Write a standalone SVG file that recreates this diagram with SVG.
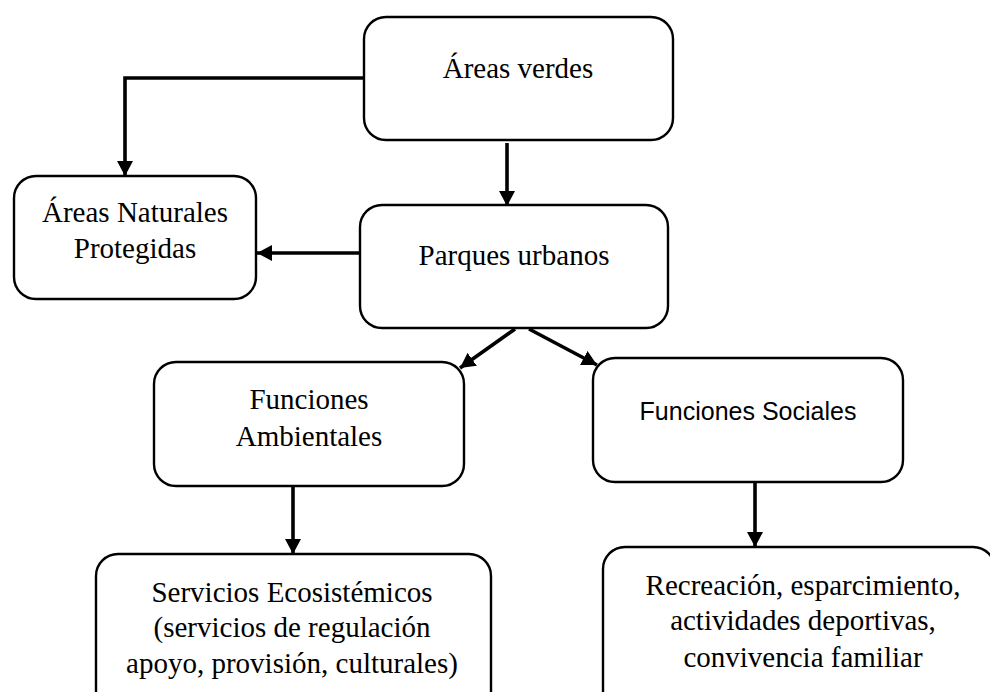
<svg xmlns="http://www.w3.org/2000/svg" width="990" height="692" viewBox="0 0 990 692">
<defs>
<style>
.box{fill:#fff;stroke:#000;stroke-width:2.4}
.t{font-family:"Liberation Serif","Times New Roman",serif;font-size:29px;fill:#000;text-anchor:middle}
.s{font-family:"Liberation Sans",Arial,sans-serif;font-size:25px;fill:#000;text-anchor:middle}
.c{fill:none;stroke:#000;stroke-width:3.6}
</style>
<marker id="ah" markerUnits="userSpaceOnUse" markerWidth="16" markerHeight="16" refX="15" refY="8" orient="auto">
<path d="M0,0 L15,8 L0,16 Z" fill="#000"/>
</marker>
</defs>
<rect width="990" height="692" fill="#fff"/>
<g id="connectors">
<path class="c" d="M364,78 L125,78 L125,176" marker-end="url(#ah)"/>
<path class="c" d="M507,143 L507,206" marker-end="url(#ah)"/>
<path class="c" d="M360,253 L257,253" marker-end="url(#ah)"/>
<path class="c" d="M515,329 L460,368" marker-end="url(#ah)"/>
<path class="c" d="M529,329 L597,365" marker-end="url(#ah)"/>
<path class="c" d="M293,487 L293,554" marker-end="url(#ah)"/>
<path class="c" d="M755,482 L755,547" marker-end="url(#ah)"/>
</g>
<g id="areas-verdes">
<rect class="box" x="364" y="17" width="309" height="123" rx="22"/>
<text class="t" x="518" y="78">Áreas verdes</text>
</g>
<g id="areas-naturales">
<rect class="box" x="14" y="176" width="242" height="123" rx="22"/>
<text class="t" x="135" y="222">Áreas Naturales</text>
<text class="t" x="135" y="258">Protegidas</text>
</g>
<g id="parques-urbanos">
<rect class="box" x="360" y="205" width="308" height="123" rx="22"/>
<text class="t" x="514" y="265">Parques urbanos</text>
</g>
<g id="funciones-ambientales">
<rect class="box" x="154" y="362" width="310" height="124" rx="22"/>
<text class="t" x="309" y="409">Funciones</text>
<text class="t" x="309" y="446">Ambientales</text>
</g>
<g id="funciones-sociales">
<rect class="box" x="593" y="358" width="310" height="124" rx="22"/>
<text class="s" x="748" y="420">Funciones Sociales</text>
</g>
<g id="servicios">
<rect class="box" x="96" y="554" width="395" height="160" rx="22"/>
<text class="t" x="292" y="602">Servicios Ecosistémicos</text>
<text class="t" x="292" y="637">(servicios de regulación</text>
<text class="t" x="292" y="673">apoyo, provisión, culturales)</text>
</g>
<g id="recreacion">
<rect class="box" x="603" y="547" width="392" height="167" rx="22"/>
<text class="t" x="803" y="595">Recreación, esparcimiento,</text>
<text class="t" x="803" y="630">actividades deportivas,</text>
<text class="t" x="803" y="667">convivencia familiar</text>
</g>
</svg>
